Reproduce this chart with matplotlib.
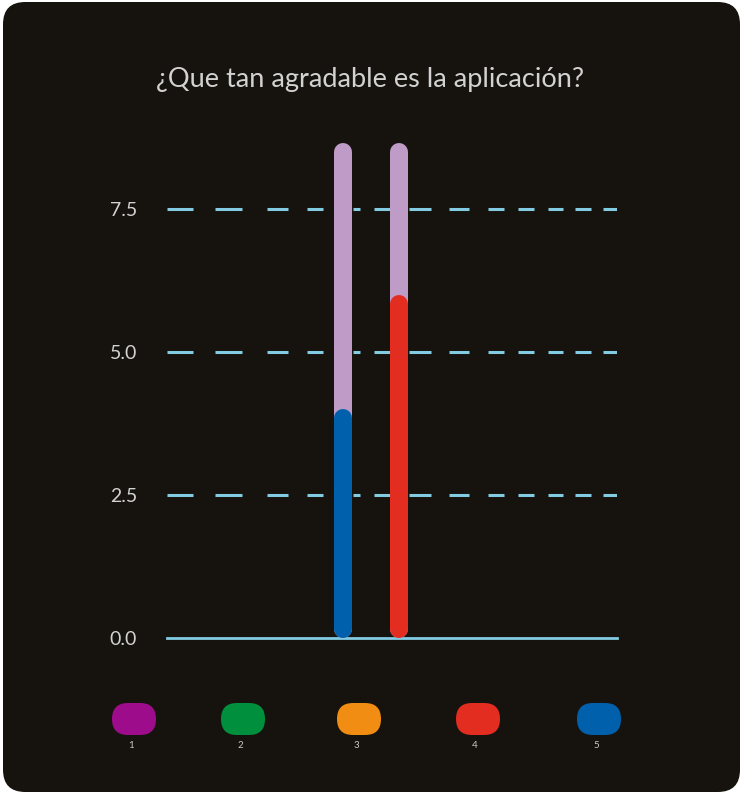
import matplotlib
matplotlib.use("Agg")
import matplotlib.pyplot as plt
from matplotlib.patches import FancyBboxPatch

# Data
title = "¿Que tan agradable es la aplicación?"
bar_labels = ["5", "4"]
bar_values = [4.0, 6.0]
bar_colors = ["#0060ab", "#e32d21"]
track_max = 8.65
yticks = [0.0, 2.5, 5.0, 7.5]
legend_labels = ["1", "2", "3", "4", "5"]
legend_colors = ["#9d0d8b", "#008f3d", "#f08d12", "#e32d21", "#0060ab"]

BG = "#16130e"
GRID = "#82cbe3"
TRACK = "#bf9bc8"
TEXT = "#d2d2d2"

# Hand-drawn style dash rhythm for grid lines (pixels: on, off, ...)
DASH_PX = [26, 22, 27, 25, 21, 19, 16, 30, 7, 14, 17, 18, 22, 18,
           20, 19, 16, 14, 16, 14, 15, 12, 16, 12, 15, 40]

W, H = 743, 794
plt.rcParams["lines.scale_dashes"] = False
fig = plt.figure(figsize=(W / 100, H / 100), dpi=100, facecolor="white")

# Rounded dark panel behind everything
panel = FancyBboxPatch((3 / W, 2 / H), 737 / W, 790 / H,
                       boxstyle="round,pad=0,rounding_size=0.03",
                       transform=fig.transFigure, facecolor=BG,
                       edgecolor="none", mutation_aspect=W / H, zorder=-10)
fig.patches.append(panel)

fig.text(370 / W, 1 - 80 / H, title, ha="center", va="center",
         color=TEXT, fontsize=19.5, family="Lato", fontweight="normal")

# Axes
ax_left, ax_right = 167, 617
y0_px, px_per_unit = 638, 57.2
ymax = 9.0
ax = fig.add_axes([ax_left / W, (H - y0_px) / H, (ax_right - ax_left) / W,
                   ymax * px_per_unit / H])
ax.set_zorder(5)
ax.set_facecolor("none")
for s in ax.spines.values():
    s.set_visible(False)

xs = list(range(len(bar_values)))
ax.set_xlim(-176 / 56, 274 / 56)
ax.set_ylim(0, ymax)

dash_pt = [d * 72 / 100 for d in DASH_PX]
for t in yticks[1:]:
    ln = ax.axhline(t, color=GRID, lw=2.2, zorder=1)
    ln.set_dashes(dash_pt)
    ln.set_dash_capstyle("butt")
ax.axhline(0, color=GRID, lw=2.0, zorder=1, clip_on=False)

bar_px = 18
lw_pt = bar_px * 72 / 100
r = (bar_px / 2) / px_per_unit
for x, v, c in zip(xs, bar_values, bar_colors):
    ax.plot([x, x], [r, track_max - r], color=TRACK, lw=lw_pt,
            solid_capstyle="round", zorder=2, clip_on=False)
    ax.plot([x, x], [r, v - r], color=c, lw=lw_pt,
            solid_capstyle="round", zorder=3, clip_on=False)

ax.set_yticks(yticks)
ax.set_yticklabels([f"{t:.1f}" for t in yticks], color=TEXT, fontsize=14,
                   family="Lato", fontweight="normal")
ax.tick_params(axis="y", length=0, pad=21.5)
ax.set_xticks([])

# Legend pills
centers = [134, 243, 359, 478, 599]
pw, ph, pcy = 44, 32, 719
for cx, lab, col in zip(centers, legend_labels, legend_colors):
    pill = FancyBboxPatch(((cx - pw / 2) / W, (H - pcy - ph / 2) / H), pw / W, ph / H,
                          boxstyle="round,pad=0,rounding_size=0.0215",
                          transform=fig.transFigure, facecolor=col,
                          edgecolor="none", mutation_aspect=W / H, zorder=1)
    fig.patches.append(pill)
    fig.text((cx - 3) / W, 1 - 746 / H, lab, ha="center", va="center",
             color="#c8c8c8", fontsize=7, family="Lato")

fig.savefig("out.png", dpi=100, facecolor="white")
